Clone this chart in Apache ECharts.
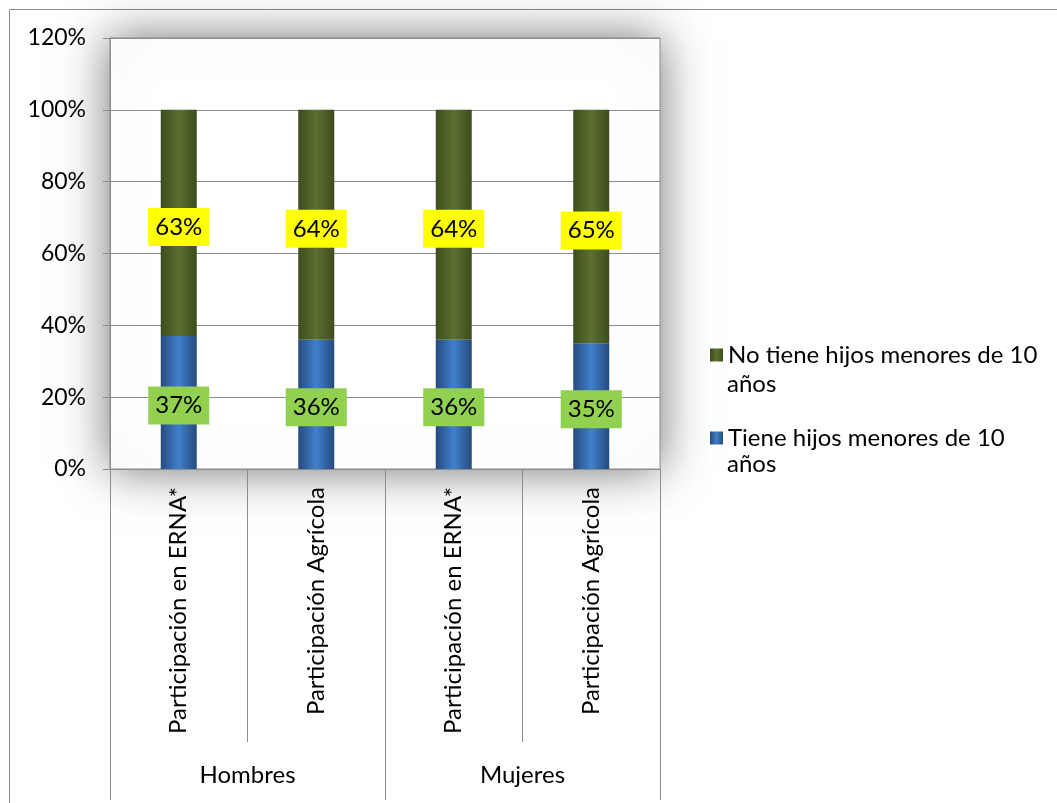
<!DOCTYPE html>
<html>
<head>
<meta charset="utf-8">
<script src="https://cdn.jsdelivr.net/npm/echarts@6/dist/echarts.min.js"></script>
<style>
  html, body { margin: 0; padding: 0; background: #ffffff; }
  #chart { width: 1057px; height: 803px; }
</style>
</head>
<body>
<div id="chart"></div>
<script>
// datos
const categorias = ['Participación en ERNA*', 'Participación Agrícola', 'Participación en ERNA*', 'Participación Agrícola']
const grupos = ['Hombres', 'Mujeres']
const conHijos = [37, 36, 36, 35] // Tiene hijos menores de 10 años
const sinHijos = [63, 64, 64, 65] // No tiene hijos menores de 10 años
const nombreCon = 'Tiene hijos menores de 10 años'
const nombreSin = 'No tiene hijos menores de 10 años'

const fuente = 'Lato, "Open Sans", sans-serif'
const gris = '#8c8c8c'

// degradado horizontal para simular el bisel
const degradado = (borde, centro) => new echarts.graphic.LinearGradient(0, 0, 1, 0, [
  { offset: 0, color: borde },
  { offset: 0.5, color: centro },
  { offset: 1, color: borde }
])

// leyenda: una por serie, la segunda línea ("años") va como texto aparte
const leyenda = (nombre, top) => ({
  orient: 'vertical',
  left: 705,
  top: top,
  itemWidth: 13,
  itemHeight: 13,
  icon: 'rect',
  data: [nombre],
  formatter: function (name) {
    return name.replace(' años', '')
  },
  textStyle: {
    fontFamily: fuente,
    fontSize: 24,
    color: '#000000',
    lineHeight: 28
  }
})

const segundaLinea = (y) => ({
  type: 'text',
  left: 727,
  top: y,
  style: { text: 'años', font: '24px ' + fuente, fill: '#000000' }
})

const myChart = echarts.init(document.getElementById('chart'))

const options = {
  backgroundColor: '#ffffff',
  animation: false,
  textStyle: { fontFamily: fuente },
  graphic: [
    {
      type: 'rect',
      shape: { x: 9.5, y: 9.5, width: 1060, height: 800 },
      style: { fill: 'none', stroke: gris, lineWidth: 1 },
      z: -10
    },
    segundaLinea(372),
    segundaLinea(452)
  ],
  grid: {
    show: true,
    left: 110,
    right: 397,
    top: 38,
    bottom: 334,
    backgroundColor: '#ffffff',
    borderColor: gris,
    borderWidth: 1,
    shadowBlur: 45,
    shadowColor: 'rgba(0,0,0,0.55)'
  },
  legend: [leyenda(nombreSin, 336), leyenda(nombreCon, 419)],
  xAxis: [
    {
      type: 'category',
      data: categorias,
      position: 'bottom',
      axisLine: { show: true, lineStyle: { color: gris } },
      axisTick: { show: true, length: 273, lineStyle: { color: gris } },
      axisLabel: {
        rotate: 90,
        margin: 18,
        fontSize: 24,
        color: '#000000',
        fontFamily: fuente,
        interval: 0
      }
    },
    {
      type: 'category',
      data: grupos,
      position: 'bottom',
      axisLine: { show: false },
      axisTick: { show: true, length: 331, lineStyle: { color: gris } },
      axisLabel: {
        margin: 294,
        fontSize: 24,
        color: '#000000',
        fontFamily: fuente
      }
    }
  ],
  yAxis: {
    type: 'value',
    min: 0,
    max: 120,
    interval: 20,
    axisLine: { show: true, lineStyle: { color: gris } },
    axisTick: { show: true, length: 7, lineStyle: { color: gris } },
    axisLabel: {
      formatter: '{value}%',
      fontSize: 23,
      color: '#000000',
      margin: 24,
      fontFamily: fuente
    },
    splitLine: { lineStyle: { color: gris, width: 1 } }
  },
  series: [
    {
      name: nombreCon,
      type: 'bar',
      stack: 'total',
      barWidth: 36,
      data: conHijos,
      itemStyle: { color: degradado('#264a7e', '#4080cc') },
      label: {
        show: true,
        position: 'inside',
        offset: [0, 3],
        formatter: '{c}%',
        fontSize: 24,
        color: '#000000',
        fontFamily: fuente,
        backgroundColor: '#92d050',
        padding: [8, 7, 6, 7]
      }
    },
    {
      name: nombreSin,
      type: 'bar',
      stack: 'total',
      barWidth: 36,
      data: sinHijos,
      itemStyle: { color: degradado('#3d4c1d', '#5b7030') },
      label: {
        show: true,
        position: 'inside',
        offset: [0, 4],
        formatter: '{c}%',
        fontSize: 24,
        color: '#000000',
        fontFamily: fuente,
        backgroundColor: '#ffff00',
        padding: [8, 7, 6, 7]
      }
    }
  ]
}

myChart.setOption(options)
</script>
</body>
</html>
